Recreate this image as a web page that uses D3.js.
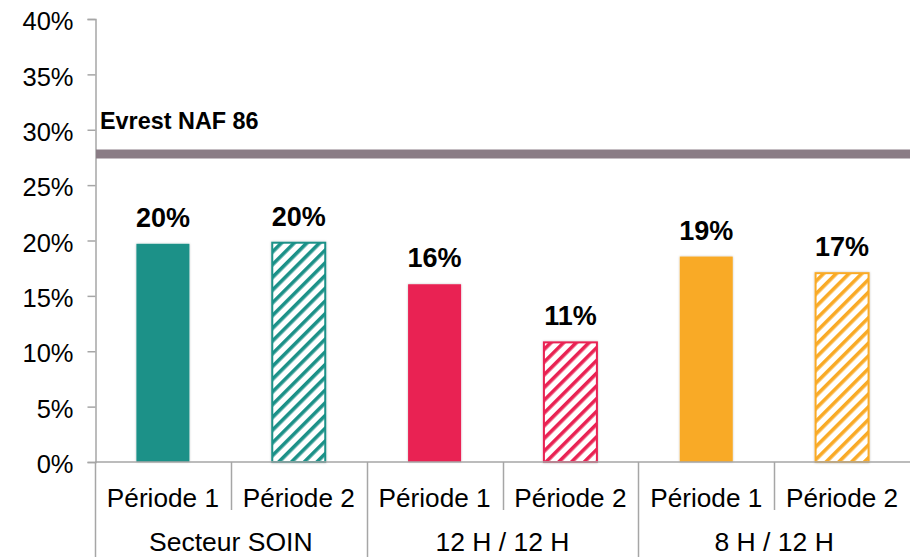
<!DOCTYPE html>
<html>
<head>
<meta charset="utf-8">
<script src="https://cdn.jsdelivr.net/npm/d3@7.9.0/dist/d3.min.js"></script>
<style>
  body { margin: 0; background: #fff; }
  text { font-family: "Liberation Sans", Arial, sans-serif; fill: #000; }
</style>
</head>
<body>
<div id="chart"></div>
<script>
// chart size
const width = 910;
const height = 557;
const margin = { top: 19, right: 0, bottom: 95, left: 95 };

// data
const groups = ["Secteur SOIN", "12 H / 12 H", "8 H / 12 H"];
const periods = ["Période 1", "Période 2"];
const values = [19.7, 19.8, 16.05, 10.8, 18.55, 17.05];
const labels = ["20%", "20%", "16%", "11%", "19%", "17%"];
const groupColors = ["#1a9188", "#e92152", "#f9aa25"];
const refValue = 27.8;
const refLabel = "Evrest NAF 86";
const yTicks = [0, 5, 10, 15, 20, 25, 30, 35, 40];

const bars = values.map((v, i) => ({
  key: i,
  group: Math.floor(i / 2),
  period: i % 2,
  value: v,
  label: labels[i],
}));

const area = {
  left: margin.left,
  right: width - margin.right,
  top: margin.top,
  bottom: height - margin.bottom,
};

const svg = d3.select("#chart").append("svg")
  .attr("width", width)
  .attr("height", height);

const defs = svg.append("defs");

// hatch patterns, one per group colour
groupColors.forEach((c, i) => {
  const p = defs.append("pattern")
    .attr("id", "hatch" + i)
    .attr("patternUnits", "userSpaceOnUse")
    .attr("width", 9)
    .attr("height", 9)
    .attr("patternTransform", "rotate(45)");
  p.append("rect").attr("width", 9).attr("height", 9).attr("fill", "#fff");
  p.append("rect").attr("width", 3.6).attr("height", 9).attr("fill", c);
});

const shadow = defs.append("filter").attr("id", "shadow")
  .attr("x", "-20%").attr("y", "-5%").attr("width", "140%").attr("height", "110%");
shadow.append("feDropShadow")
  .attr("dx", 0).attr("dy", 0).attr("stdDeviation", 1.2)
  .attr("flood-color", "#000").attr("flood-opacity", 0.25);

const x = d3.scaleBand()
  .domain(bars.map(d => d.key))
  .range([area.left, area.right])
  .paddingInner(0.61)
  .paddingOuter(0.305);

const y = d3.scaleLinear()
  .domain([0, 40])
  .range([area.bottom, area.top]);

// y axis
const yAxis = svg.append("g")
  .attr("transform", `translate(${area.left + 0.5},0)`)
  .call(d3.axisLeft(y).tickValues(yTicks).tickSize(8).tickPadding(14)
    .tickFormat(d => d + "%"));
yAxis.select(".domain").attr("stroke", "#a6a6a6").attr("stroke-width", 1.5);
yAxis.selectAll(".tick line").attr("stroke", "#a6a6a6").attr("stroke-width", 1.5);
yAxis.selectAll(".tick text")
  .attr("font-size", 25.5)
  .attr("dy", "0.42em")
  .style("font-family", "Liberation Sans, Arial, sans-serif");

// reference line
svg.append("line")
  .attr("x1", area.left + 1)
  .attr("x2", area.right)
  .attr("y1", y(refValue))
  .attr("y2", y(refValue))
  .attr("stroke", "#8a7c85")
  .attr("stroke-width", 9);

svg.append("text")
  .attr("x", area.left + 5)
  .attr("y", 129)
  .attr("font-size", 23.4)
  .attr("font-weight", "bold")
  .text(refLabel);

// bars
svg.append("g")
  .selectAll("rect")
  .data(bars)
  .join("rect")
  .attr("x", d => x(d.key))
  .attr("y", d => y(d.value))
  .attr("width", x.bandwidth())
  .attr("height", d => y(0) - y(d.value))
  .attr("fill", d => d.period === 0 ? groupColors[d.group] : `url(#hatch${d.group})`)
  .attr("stroke", d => d.period === 0 ? "none" : groupColors[d.group])
  .attr("stroke-width", 2)
  .attr("filter", "url(#shadow)");

// value labels
svg.append("g")
  .selectAll("text")
  .data(bars)
  .join("text")
  .attr("x", d => x(d.key) + x.bandwidth() / 2)
  .attr("y", d => y(d.value) - 17)
  .attr("text-anchor", "middle")
  .attr("font-size", 27)
  .attr("font-weight", "bold")
  .text(d => d.label);

// x axis (two levels)
const step = x.step();
const xa = svg.append("g").attr("stroke", "#a6a6a6").attr("stroke-width", 1.5);
xa.append("line")
  .attr("x1", area.left).attr("x2", area.right)
  .attr("y1", area.bottom).attr("y2", area.bottom);

d3.range(0, bars.length).forEach(i => {
  const xx = Math.round(area.left + i * step) + 0.5;
  xa.append("line")
    .attr("x1", xx).attr("x2", xx)
    .attr("y1", area.bottom)
    .attr("y2", i % 2 === 0 ? height : area.bottom + 48);
});

svg.append("g")
  .selectAll("text")
  .data(bars)
  .join("text")
  .attr("x", d => x(d.key) + x.bandwidth() / 2)
  .attr("y", 507)
  .attr("text-anchor", "middle")
  .attr("font-size", 26.2)
  .text(d => periods[d.period]);

svg.append("g")
  .selectAll("text")
  .data(groups)
  .join("text")
  .attr("x", (d, i) => area.left + (i * 2 + 1) * step)
  .attr("y", 551)
  .attr("text-anchor", "middle")
  .attr("font-size", 26.5)
  .text(d => d);
</script>
</body>
</html>
